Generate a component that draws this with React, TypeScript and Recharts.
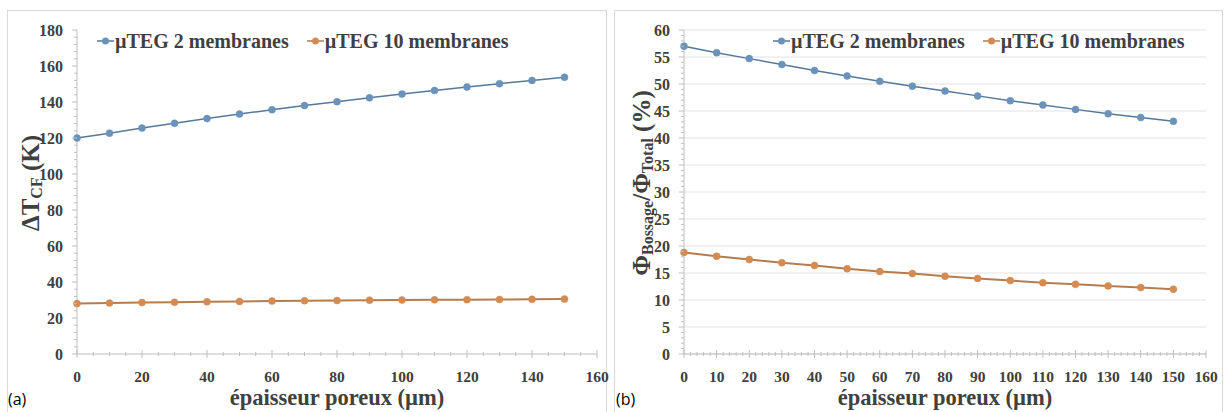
import { LineChart, Line, XAxis, YAxis, CartesianGrid, Legend } from 'recharts';

// Porous layer thickness (µm)
const thickness = [0, 10, 20, 30, 40, 50, 60, 70, 80, 90, 100, 110, 120, 130, 140, 150];

// (a) ΔT_CF (K)
const dTcf2 = [120, 122.7, 125.5, 128.2, 130.8, 133.3, 135.7, 138.0, 140.2, 142.3, 144.4, 146.4, 148.3, 150.2, 152.0, 153.7];
const dTcf10 = [28.0, 28.3, 28.6, 28.8, 29.0, 29.2, 29.4, 29.6, 29.7, 29.9, 30.0, 30.1, 30.2, 30.3, 30.4, 30.5];

// (b) Φ_Bossage / Φ_Total (%)
const phi2 = [57.0, 55.8, 54.7, 53.6, 52.5, 51.5, 50.5, 49.6, 48.7, 47.8, 46.9, 46.1, 45.3, 44.5, 43.8, 43.1];
const phi10 = [18.8, 18.1, 17.5, 16.9, 16.4, 15.8, 15.3, 14.9, 14.4, 14.0, 13.6, 13.2, 12.9, 12.6, 12.3, 12.0];

// tick labels
const leftXLabels = [0, 20, 40, 60, 80, 100, 120, 140, 160];
const leftYLabels = [0, 20, 40, 60, 80, 100, 120, 140, 160, 180];
const rightXLabels = [0, 10, 20, 30, 40, 50, 60, 70, 80, 90, 100, 110, 120, 130, 140, 150, 160];
const rightYLabels = [0, 5, 10, 15, 20, 25, 30, 35, 40, 45, 50, 55, 60];

const seriesNames = ['µTEG 2 membranes', 'µTEG 10 membranes'];

const SERIF = 'Liberation Serif, Times New Roman, Tinos, DejaVu Serif, serif';
const TEXT = '#404040';
const AXIS = '#bfbfbf';
const BLUE_DOT = '#6b93ba';
const BLUE_LINE = '#56789a';
const ORANGE_DOT = '#d48b52';
const ORANGE_LINE = '#b57c50';

// minor tick marks between the labelled ones
function minorTicks(max: number, step: number) {
  const out: number[] = [];
  for (let v = 0; v <= max + 1e-9; v += step) out.push(Math.round(v * 100) / 100);
  return out;
}

const leftData = thickness.map((x, i) => ({ x, m2: dTcf2[i], m10: dTcf10[i] }));
const rightData = thickness.map((x, i) => ({ x, m2: phi2[i], m10: phi10[i] }));

const YTick = ({ x, y, payload, majors }: any) => {
  const major = majors.includes(payload.value);
  return (
    <g>
      <line x1={x - (major ? 5 : 3)} y1={y} x2={x} y2={y} stroke={AXIS} strokeWidth={1} />
      {major && (
        <text x={x - 14} y={y} textAnchor="end" dominantBaseline="central"
          style={{ fontFamily: SERIF }} fontWeight={700} fontSize={16} fill={TEXT}>
          {payload.value}
        </text>
      )}
    </g>
  );
};

const XTick = ({ x, y, payload, majors }: any) => {
  const major = majors.includes(payload.value);
  return (
    <g>
      <line x1={x} y1={y - (major ? 4 : 2)} x2={x} y2={y + (major ? 4 : 2)} stroke={AXIS} strokeWidth={1} />
      {major && (
        <text x={x} y={y + 22} textAnchor="middle" dominantBaseline="central"
          style={{ fontFamily: SERIF }} fontWeight={700} fontSize={15.5} fill={TEXT}>
          {payload.value}
        </text>
      )}
    </g>
  );
};

// rotated y title with subscripts (parts: [text, isSub])
const YTitle = ({ viewBox, parts, dx }: any) => {
  const cx = viewBox.x + dx;
  const cy = viewBox.y + viewBox.height / 2 - 9;
  let sub = false;
  return (
    <text x={cx} y={cy} transform={`rotate(-90 ${cx} ${cy})`} textAnchor="middle" dominantBaseline="central"
      style={{ fontFamily: SERIF }} fontWeight={700} fontSize={25} fill={TEXT}>
      {parts.map(([t, s]: [string, boolean], i: number) => {
        const dy = s && !sub ? 6 : !s && sub ? -6 : 0;
        sub = s;
        return (
          <tspan key={i} dy={dy} fontSize={s ? 16 : 25}>{t}</tspan>
        );
      })}
    </text>
  );
};

const XTitle = ({ viewBox }: any) => (
  <text x={viewBox.x + viewBox.width / 2} y={viewBox.y + 51} textAnchor="middle"
    style={{ fontFamily: SERIF }} fontWeight={700} fontSize={22.5} fill={TEXT}>
    épaisseur poreux (µm)
  </text>
);

const LegendContent = () => (
  <div style={{ display: 'flex', alignItems: 'center', gap: 18, fontFamily: SERIF, fontWeight: 700, fontSize: 20, color: TEXT, whiteSpace: 'nowrap', lineHeight: '24px' }}>
    {[[BLUE_LINE, BLUE_DOT], [ORANGE_LINE, ORANGE_DOT]].map(([l, d], i) => (
      <span key={i} style={{ display: 'flex', alignItems: 'center' }}>
        <svg width={17} height={10}>
          <line x1={0} y1={5} x2={17} y2={5} stroke={l} strokeWidth={1.5} />
          <circle cx={8.5} cy={5} r={3.5} fill={d} />
        </svg>
        <span style={{ marginLeft: 1 }}>{seriesNames[i]}</span>
      </span>
    ))}
  </div>
);

interface PanelProps {
  left: number;
  width: number;
  marginRight: number;
  data: any[];
  yMax: number;
  yLabels: number[];
  yMinorStep: number;
  xLabels: number[];
  xMinorStep: number;
  grid: boolean;
  titleParts: [string, boolean][];
  titleDx: number;
  legendLeft: number;
  tag: string;
}

// extra room so the last x label is not clipped by the svg edge
const SPILL = 14;

function Panel(p: PanelProps) {
  return (
    <div style={{ position: 'absolute', left: p.left, top: 10, width: p.width, height: 402, border: '1px solid #d9d9d9', borderBottom: 'none', boxSizing: 'border-box' }}>
      <div style={{ position: 'absolute', left: -1, top: -10 }}>
        <LineChart width={p.width + SPILL} height={412} data={p.data}
          margin={{ top: 29, right: p.marginRight + SPILL, bottom: 0, left: 0 }}>
          {p.grid && (
            <CartesianGrid vertical={false} stroke="#e3e3e3" horizontalValues={p.yLabels} />
          )}
          <XAxis dataKey="x" type="number" domain={[0, 160]} ticks={minorTicks(160, p.xMinorStep)} interval={0}
            tick={<XTick majors={p.xLabels} />} tickLine={false} tickSize={0} tickMargin={0}
            axisLine={{ stroke: AXIS }} height={59}
            label={<XTitle />} />
          <YAxis type="number" domain={[0, p.yMax]} ticks={minorTicks(p.yMax, p.yMinorStep)} interval={0}
            tick={<YTick majors={p.yLabels} />} tickLine={false} tickSize={0} tickMargin={0}
            axisLine={{ stroke: AXIS }} width={70}
            label={<YTitle parts={p.titleParts} dx={p.titleDx} />} />
          <Legend verticalAlign="middle" align="center" layout="horizontal"
            wrapperStyle={{ top: 28, left: p.legendLeft, width: 'auto' }} content={<LegendContent />} />
          <Line dataKey="m2" name={seriesNames[0]} stroke={BLUE_LINE} strokeWidth={1.5}
            dot={{ r: 3.5, fill: BLUE_DOT, stroke: BLUE_DOT, strokeWidth: 0.5 }} isAnimationActive={false} />
          <Line dataKey="m10" name={seriesNames[1]} stroke={ORANGE_LINE} strokeWidth={2}
            dot={{ r: 3.5, fill: ORANGE_DOT, stroke: ORANGE_DOT, strokeWidth: 0.5 }} isAnimationActive={false} />
        </LineChart>
      </div>
      <div style={{ position: 'absolute', left: p.tag === '(a)' ? 0 : 1, top: 377, fontFamily: '"Open Sans", "Liberation Sans", sans-serif', fontSize: 16, color: '#000' }}>
        {p.tag}
      </div>
    </div>
  );
}

export default function App() {
  return (
    <div style={{ position: 'absolute', left: 0, top: 0, width: 1225, height: 412, background: '#fff', overflow: 'hidden' }}>
      <Panel left={7} width={600} marginRight={10} data={leftData} yMax={180} yLabels={leftYLabels} yMinorStep={4}
        xLabels={leftXLabels} xMinorStep={5} grid={false}
        titleParts={[['ΔT', false], ['CF', true], [' (K)', false]]} titleDx={23} legendLeft={90} tag="(a)" />
      <Panel left={614} width={609} marginRight={17} data={rightData} yMax={60} yLabels={rightYLabels} yMinorStep={1}
        xLabels={rightXLabels} xMinorStep={2} grid={true}
        titleParts={[['Φ', false], ['Bossage', true], ['/Φ', false], ['Total', true], [' (%)', false]]} titleDx={27}
        legendLeft={159} tag="(b)" />
    </div>
  );
}
